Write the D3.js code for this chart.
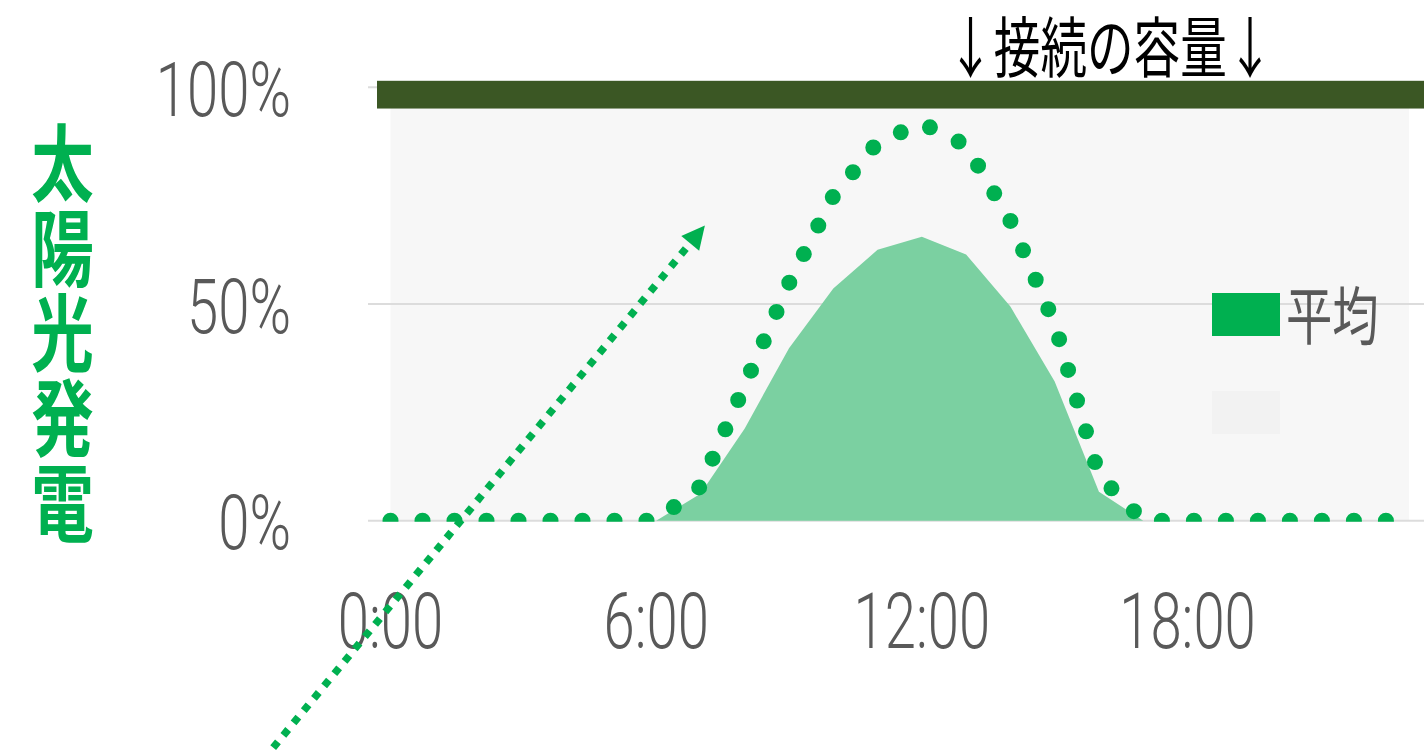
<!DOCTYPE html>
<html><head><meta charset="utf-8">
<script src="https://cdn.jsdelivr.net/npm/d3@7"></script>
<style>html,body{margin:0;padding:0;background:#fff;} svg{display:block}</style>
</head><body>
<svg id="chart" width="1424" height="750"></svg>
<script>
// ---- data ----
const hours = d3.range(0, 24);
const hourTicks = [0, 6, 12, 18];
const hourTickLabels = ["0:00", "6:00", "12:00", "18:00"];
const yTicks = [0, 50, 100];
const yTickLabels = ["0%", "50%", "100%"];
const averageValues = [0,0,0,0,0,0,0,6.2,21.3,39.8,53.6,62.5,65.5,61.4,49.4,32.1,6.7,0,0,0,0,0,0,0];
const maxValues     = [0,0,0,0,0,0,0,7.9,31.3,54.8,74.9,87.3,91.7,86.6,69.2,45.4,10.4,0,0,0,0,0,0,0];
const capacityBand = [95.1, 101.5];
const titleText = "↓接続の容量↓";
const yTitle = "太陽光発電";
const legendLabels = ["平均", ""];
const arrowFrom = [-2.88, -55.2];
const arrowTo = [7.10, 68.1];

// ---- chart ----
const svg = d3.select("#chart");
const x = d3.scaleLinear().domain([0, 23]).range([390.5, 1408.9]);
const y = d3.scaleLinear().domain([0, 100]).range([520.7, 87.3]);
const numFont = "Roboto, 'Liberation Sans', sans-serif";
const cjkFont = "'Noto Sans CJK JP', 'Noto Sans', sans-serif";

// plot background
svg.append("rect")
  .attr("x", x(0)).attr("y", y(100))
  .attr("width", x(23) - x(0)).attr("height", y(0) - y(100))
  .attr("fill", "#f7f7f7");

// gridlines
svg.append("g").selectAll("line").data(yTicks).join("line")
  .attr("x1", 368).attr("x2", 1424)
  .attr("y1", d => y(d)).attr("y2", d => y(d))
  .attr("stroke", "#dcdcdc").attr("stroke-width", 2);

// area (average)
const area = d3.area().x((d, i) => x(hours[i])).y0(y(0)).y1(d => y(d));
svg.append("path").datum(averageValues)
  .attr("d", area).attr("fill", "#7bd0a1");

// clip for dotted line
svg.append("defs").append("clipPath").attr("id", "clipPlot")
  .append("rect").attr("x", 0).attr("y", 0).attr("width", 1424).attr("height", y(0) + 1);

const line = d3.line().x((d, i) => x(hours[i])).y(d => y(d));
svg.append("path").datum(maxValues)
  .attr("d", line).attr("fill", "none")
  .attr("stroke", "#00b050").attr("stroke-width", 16)
  .attr("stroke-linecap", "round").attr("stroke-dasharray", "0 32")
  .attr("clip-path", "url(#clipPlot)");

// capacity bar
svg.append("rect")
  .attr("x", 377).attr("y", y(capacityBand[1]))
  .attr("width", 1424 - 377).attr("height", y(capacityBand[0]) - y(capacityBand[1]))
  .attr("fill", "#3b5724");

// y tick labels
svg.append("g").selectAll("text").data(yTicks).join("text")
  .attr("transform", d => `translate(291,${y(d) + 28.5}) scale(0.74,1)`)
  .attr("text-anchor", "end")
  .attr("font-family", numFont).attr("font-weight", 300)
  .attr("font-size", 76).attr("fill", "#595959")
  .text((d, i) => yTickLabels[i]);

// x tick labels
svg.append("g").selectAll("text").data(hourTicks).join("text")
  .attr("transform", d => `translate(${x(d)},648) scale(0.73,1)`)
  .attr("text-anchor", "middle")
  .attr("font-family", numFont).attr("font-weight", 300)
  .attr("font-size", 77).attr("fill", "#595959")
  .text((d, i) => hourTickLabels[i]);

// title
svg.append("text")
  .attr("transform", "translate(1110.3,72) scale(0.706,1)")
  .attr("text-anchor", "middle")
  .attr("font-family", cjkFont).attr("font-size", 66).attr("fill", "#000")
  .text(titleText);

// legend
const legendColors = ["#00b050", "#f2f2f2"];
const lg = svg.append("g");
lg.selectAll("rect").data(legendLabels).join("rect")
  .attr("x", 1212).attr("y", (d, i) => 293 + i * 98)
  .attr("width", 68).attr("height", 43)
  .attr("fill", (d, i) => legendColors[i]);
lg.selectAll("text").data(legendLabels).join("text")
  .attr("transform", (d, i) => `translate(1286,${338.5 + i * 98}) scale(0.735,1)`)
  .attr("font-family", cjkFont).attr("font-size", 63).attr("fill", "#595959")
  .text(d => d);

// y axis title (vertical writing)
svg.append("text")
  .attr("transform", "translate(62.5,121) scale(0.745,1)")
  .attr("x", 0).attr("y", 0)
  .style("writing-mode", "vertical-rl")
  .style("text-orientation", "upright")
  .attr("letter-spacing", 1)
  .attr("font-family", cjkFont).attr("font-weight", 700)
  .attr("font-size", 84).attr("fill", "#00b050")
  .text(yTitle);

// arrow annotation
const p0 = [x(arrowFrom[0]), y(arrowFrom[1])];
const p1 = [x(arrowTo[0]), y(arrowTo[1])];
const dx = p1[0] - p0[0], dy = p1[1] - p0[1];
const len = Math.hypot(dx, dy);
const ux = dx / len, uy = dy / len;
const headLen = 23, headHalf = 11.6;
const base = [p1[0] - ux * headLen, p1[1] - uy * headLen];
svg.append("line")
  .attr("x1", p0[0]).attr("y1", p0[1]).attr("x2", base[0]).attr("y2", base[1])
  .attr("stroke", "#00b050").attr("stroke-width", 7.5)
  .attr("stroke-dasharray", "7.5 8.5");
svg.append("polygon")
  .attr("points", [p1, [base[0] - uy * headHalf, base[1] + ux * headHalf], [base[0] + uy * headHalf, base[1] - ux * headHalf]].map(p => p.join(",")).join(" "))
  .attr("fill", "#00b050");
</script>
</body></html>
